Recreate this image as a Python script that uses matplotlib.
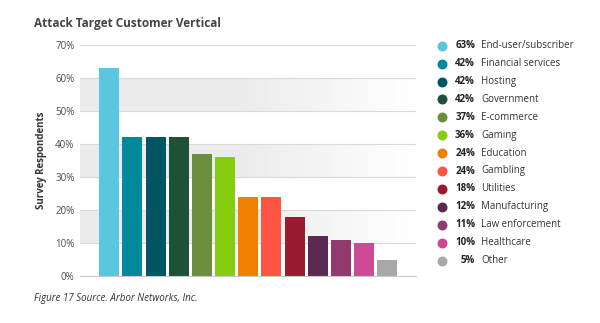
import numpy as np
import matplotlib
matplotlib.use("Agg")
import matplotlib.pyplot as plt
from matplotlib.colors import LinearSegmentedColormap

# data
categories = ["End-user/subscriber", "Financial services", "Hosting", "Government",
              "E-commerce", "Gaming", "Education", "Gambling", "Utilities",
              "Manufacturing", "Law enforcement", "Healthcare", "Other"]
values = [63, 42, 42, 42, 37, 36, 24, 24, 18, 12, 11, 10, 5]
colors = ["#5bc6df", "#00899a", "#005660", "#1d5138", "#6b8f3e", "#86cc10",
          "#f08000", "#fd5444", "#981b2f", "#5a2a51", "#923a6d", "#cc4a95", "#a8a8a8"]
yticks = [0, 10, 20, 30, 40, 50, 60, 70]

plt.rcParams['font.family'] = ['Open Sans', 'DejaVu Sans']

fig = plt.figure(figsize=(6, 3.23), dpi=100)
ax = fig.add_axes([80/600, 1-276/323, 336/600, 231/323])

x = np.arange(len(values))
xlim = (-1.26, 13.24)

# alternating shaded bands fading to white on the right
grad = np.concatenate([np.zeros(45), np.linspace(0, 1, 55)])[None, :]
cmap = LinearSegmentedColormap.from_list("band", ["#ebebeb", "#ffffff"])
for lo in range(10, 70, 20):
    ax.imshow(grad, extent=[xlim[0], xlim[1], lo, lo + 10], aspect="auto",
              cmap=cmap, zorder=0)
ax.set_xlim(xlim)
ax.set_ylim(0, 70)

for t in yticks[1:]:
    ax.axhline(t, color="#d9d9d9", lw=0.8, zorder=1)

ax.bar(x, values, width=0.86, color=colors, zorder=2)

ax.set_yticks(yticks)
ax.set_yticklabels([f"{t}%" for t in yticks], fontsize=7, color="#4a4a4a")
ax.set_xticks([])
ax.tick_params(axis="y", length=0, pad=4)
for s in ["top", "right", "left"]:
    ax.spines[s].set_visible(False)
ax.spines["bottom"].set_color("#c8c8c8")
ax.set_ylabel("Survey Respondents", fontsize=7, fontweight="bold", color="#333333", labelpad=6)

fig.text(34/600, 1-24/323, "Attack Target Customer Vertical", fontsize=8.5,
         fontweight="bold", color="#444444", va="center")
fig.text(34/600, 1-299/323, "Figure 17 Source. Arbor Networks, Inc.", fontsize=7,
         style="italic", color="#333333", va="center")

# legend drawn in pixel coordinates
lax = fig.add_axes([0, 0, 1, 1], facecolor="none")
lax.set_xlim(0, 600)
lax.set_ylim(323, 0)
lax.axis("off")
for i, (c, v, col) in enumerate(zip(categories, values, colors)):
    y = 45.7 + 17.9 * i
    lax.scatter(442, y, s=38, color=col, zorder=3)
    lax.text(475, y, f"{v}%", fontsize=7, fontweight="bold", color="#222222",
             ha="right", va="center")
    lax.text(481, y, c, fontsize=7, color="#333333", ha="left", va="center")

fig.savefig("out.png", dpi=100)
